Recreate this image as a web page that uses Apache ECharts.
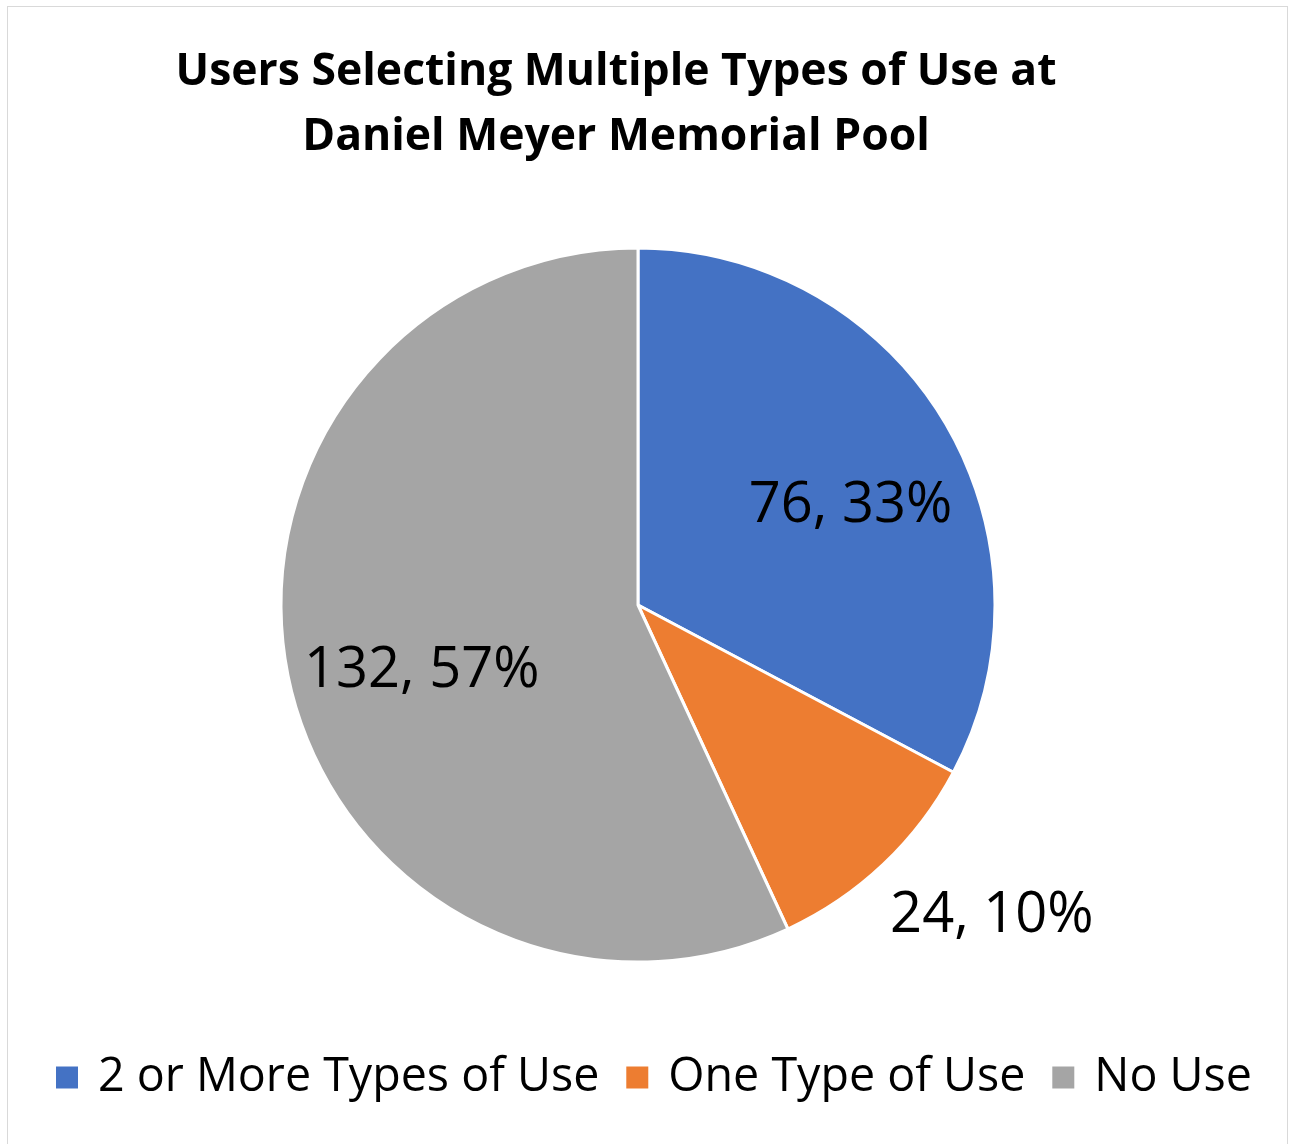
<!DOCTYPE html>
<html>
<head>
<meta charset="utf-8">
<script src="https://cdn.jsdelivr.net/npm/echarts@6/dist/echarts.min.js"></script>
<style>
html,body{margin:0;padding:0;background:#fff;}
#frame{position:absolute;left:7px;top:6px;width:1281px;height:1150px;border:1px solid #d9d9d9;box-sizing:border-box;}
#chart{position:absolute;left:0;top:0;width:1291px;height:1144px;}
</style>
</head>
<body>
<div id="frame"></div>
<div id="chart"></div>
<script>
const titleLines = ["Users Selecting Multiple Types of Use at", "Daniel Meyer Memorial Pool"];
const categories = ["2 or More Types of Use", "One Type of Use", "No Use"];
const values = [76, 24, 132];
const colors = ["#4472C4", "#ED7D31", "#A5A5A5"];
const labelOffsets = [[57, -5], [229, 179], [-39, 27]];

const total = values.reduce((a, b) => a + b, 0);
const FONT = "'Open Sans', 'Noto Sans', sans-serif";

const chart = echarts.init(document.getElementById('chart'), null, {renderer: 'canvas'});
chart.setOption({
  backgroundColor: 'transparent',
  animation: false,
  title: {
    text: titleLines.join('\n'),
    left: 611,
    top: 35,
    textAlign: 'center',
    textStyle: {fontFamily: FONT, fontWeight: 'bold', fontSize: 44.5, lineHeight: 65, color: '#000'}
  },
  legend: {
    data: categories,
    bottom: 38,
    left: 49,
    icon: 'rect',
    itemWidth: 24,
    itemHeight: 24,
    itemGap: 25,
    textStyle: {fontFamily: FONT, fontSize: 46.6, color: '#000', padding: [0, 0, 0, 14]}
  },
  series: [{
    type: 'pie',
    center: [638, 605],
    radius: [0, 357],
    startAngle: 90,
    clockwise: true,
    silent: true,
    itemStyle: {borderColor: '#fff', borderWidth: 3},
    label: {
      show: true,
      position: 'inside',
      fontFamily: FONT,
      fontSize: 56,
      color: '#000',
      formatter: p => p.value + ', ' + Math.round(p.value / total * 100) + '%'
    },
    labelLine: {show: false},
    data: categories.map((c, i) => ({
      name: c,
      value: values[i],
      itemStyle: {color: colors[i]},
      label: {offset: labelOffsets[i]}
    }))
  }]
});
</script>
</body>
</html>
